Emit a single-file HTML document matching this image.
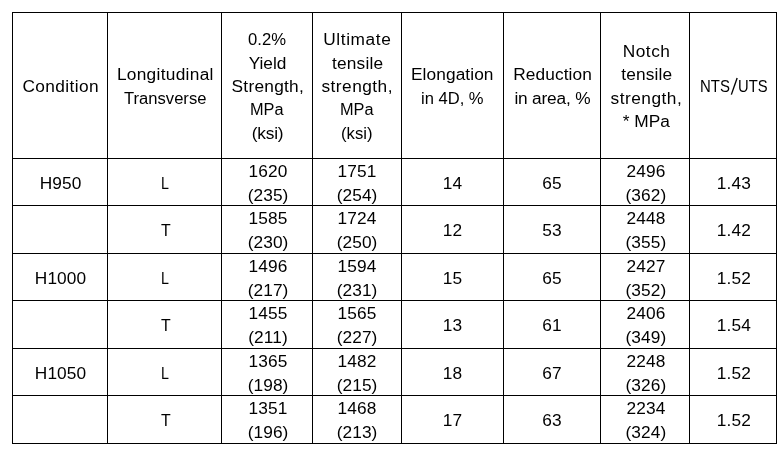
<!DOCTYPE html>
<html><head><meta charset="utf-8"><title>Table</title>
<style>
html,body{margin:0;padding:0;background:#fff;}
body{width:782px;height:453px;position:relative;overflow:hidden;font-family:"Liberation Sans",sans-serif;color:#000;}
.h{position:absolute;height:1px;background:#000;left:12px;width:765px;}
.v{position:absolute;width:1px;background:#000;top:12px;height:432px;}
.t{position:absolute;font-size:17.3px;line-height:20px;height:20px;white-space:pre;}
#w{position:absolute;left:0;top:0;width:782px;height:453px;will-change:transform;}
</style></head><body><div id="w">
<div class="h" style="top:12px"></div>
<div class="h" style="top:158px"></div>
<div class="h" style="top:205px"></div>
<div class="h" style="top:253px"></div>
<div class="h" style="top:300px"></div>
<div class="h" style="top:348px"></div>
<div class="h" style="top:395px"></div>
<div class="h" style="top:443px"></div>
<div class="v" style="left:12px"></div>
<div class="v" style="left:107px"></div>
<div class="v" style="left:221px"></div>
<div class="v" style="left:312px"></div>
<div class="v" style="left:401px"></div>
<div class="v" style="left:503px"></div>
<div class="v" style="left:600px"></div>
<div class="v" style="left:689px"></div>
<div class="v" style="left:776px"></div>
<div class="t" style="left:22.50px;top:76px;letter-spacing:0.387px;">Condition</div>
<div class="t" style="left:116.90px;top:64px;letter-spacing:0.300px;">Longitudinal</div>
<div class="t" style="left:124.30px;top:88px;transform:scaleX(0.961);transform-origin:0 0;">Transverse</div>
<div class="t" style="left:248.24px;top:29px;transform:scaleX(0.963);transform-origin:0 0;">0.2%</div>
<div class="t" style="left:248.70px;top:53px;letter-spacing:-0.025px;">Yield</div>
<div class="t" style="left:231.60px;top:76px;letter-spacing:0.250px;">Strength,</div>
<div class="t" style="left:250.46px;top:99px;transform:scaleX(0.944);transform-origin:0 0;">MPa</div>
<div class="t" style="left:251.70px;top:123px;letter-spacing:-0.175px;">(ksi)</div>
<div class="t" style="left:323.30px;top:29px;letter-spacing:0.586px;">Ultimate</div>
<div class="t" style="left:331.90px;top:53px;letter-spacing:0.217px;">tensile</div>
<div class="t" style="left:321.50px;top:76px;letter-spacing:0.462px;">strength,</div>
<div class="t" style="left:339.71px;top:99px;transform:scaleX(0.944);transform-origin:0 0;">MPa</div>
<div class="t" style="left:341.14px;top:123px;transform:scaleX(0.965);transform-origin:0 0;">(ksi)</div>
<div class="t" style="left:411.00px;top:64px;letter-spacing:0.089px;">Elongation</div>
<div class="t" style="left:420.64px;top:88px;transform:scaleX(0.958);transform-origin:0 0;">in 4D, %</div>
<div class="t" style="left:513.20px;top:64px;letter-spacing:0.112px;">Reduction</div>
<div class="t" style="left:514.40px;top:88px;letter-spacing:-0.178px;">in area, %</div>
<div class="t" style="left:622.70px;top:41px;letter-spacing:0.525px;">Notch</div>
<div class="t" style="left:621.20px;top:64px;letter-spacing:0.150px;">tensile</div>
<div class="t" style="left:610.50px;top:88px;letter-spacing:0.500px;">strength,</div>
<div class="t" style="left:622.80px;top:111px;letter-spacing:-0.025px;">* MPa</div>
<div class="t" style="left:700.24px;top:76px;transform:scaleX(0.864);transform-origin:0 0;">NTS</div>
<div class="t" style="left:738.45px;top:76px;transform:scaleX(0.855);transform-origin:0 0;">UTS</div>
<div class="t" style="left:39.69px;top:173px;letter-spacing:0.100px;">H950</div>
<div class="t" style="left:161.48px;top:173px;transform:scaleX(0.825);transform-origin:0 0;">L</div>
<div class="t" style="left:248.62px;top:161px;letter-spacing:0.100px;">1620</div>
<div class="t" style="left:247.63px;top:185px;letter-spacing:0.100px;">(235)</div>
<div class="t" style="left:337.62px;top:161px;letter-spacing:0.100px;">1751</div>
<div class="t" style="left:336.63px;top:185px;letter-spacing:0.100px;">(254)</div>
<div class="t" style="left:442.83px;top:173px;letter-spacing:0.100px;">14</div>
<div class="t" style="left:542.33px;top:173px;letter-spacing:0.100px;">65</div>
<div class="t" style="left:626.52px;top:161px;letter-spacing:0.100px;">2496</div>
<div class="t" style="left:625.53px;top:185px;letter-spacing:0.100px;">(362)</div>
<div class="t" style="left:716.83px;top:173px;letter-spacing:0.100px;">1.43</div>
<div class="t" style="left:160.50px;top:220px;transform:scaleX(0.920);transform-origin:0 0;">T</div>
<div class="t" style="left:248.62px;top:208px;letter-spacing:0.100px;">1585</div>
<div class="t" style="left:247.63px;top:232px;letter-spacing:0.100px;">(230)</div>
<div class="t" style="left:337.62px;top:208px;letter-spacing:0.100px;">1724</div>
<div class="t" style="left:336.63px;top:232px;letter-spacing:0.100px;">(250)</div>
<div class="t" style="left:442.83px;top:220px;letter-spacing:0.100px;">12</div>
<div class="t" style="left:542.33px;top:220px;letter-spacing:0.100px;">53</div>
<div class="t" style="left:626.52px;top:208px;letter-spacing:0.100px;">2448</div>
<div class="t" style="left:625.53px;top:232px;letter-spacing:0.100px;">(355)</div>
<div class="t" style="left:716.83px;top:220px;letter-spacing:0.100px;">1.42</div>
<div class="t" style="left:34.83px;top:268px;letter-spacing:0.100px;">H1000</div>
<div class="t" style="left:161.48px;top:268px;transform:scaleX(0.825);transform-origin:0 0;">L</div>
<div class="t" style="left:248.62px;top:256px;letter-spacing:0.100px;">1496</div>
<div class="t" style="left:247.63px;top:280px;letter-spacing:0.100px;">(217)</div>
<div class="t" style="left:337.62px;top:256px;letter-spacing:0.100px;">1594</div>
<div class="t" style="left:336.63px;top:280px;letter-spacing:0.100px;">(231)</div>
<div class="t" style="left:442.83px;top:268px;letter-spacing:0.100px;">15</div>
<div class="t" style="left:542.33px;top:268px;letter-spacing:0.100px;">65</div>
<div class="t" style="left:626.52px;top:256px;letter-spacing:0.100px;">2427</div>
<div class="t" style="left:625.53px;top:280px;letter-spacing:0.100px;">(352)</div>
<div class="t" style="left:716.83px;top:268px;letter-spacing:0.100px;">1.52</div>
<div class="t" style="left:160.50px;top:315px;transform:scaleX(0.920);transform-origin:0 0;">T</div>
<div class="t" style="left:248.62px;top:303px;letter-spacing:0.100px;">1455</div>
<div class="t" style="left:248.27px;top:327px;letter-spacing:0.100px;">(211)</div>
<div class="t" style="left:337.62px;top:303px;letter-spacing:0.100px;">1565</div>
<div class="t" style="left:336.63px;top:327px;letter-spacing:0.100px;">(227)</div>
<div class="t" style="left:442.83px;top:315px;letter-spacing:0.100px;">13</div>
<div class="t" style="left:542.33px;top:315px;letter-spacing:0.100px;">61</div>
<div class="t" style="left:626.52px;top:303px;letter-spacing:0.100px;">2406</div>
<div class="t" style="left:625.53px;top:327px;letter-spacing:0.100px;">(349)</div>
<div class="t" style="left:716.83px;top:315px;letter-spacing:0.100px;">1.54</div>
<div class="t" style="left:34.83px;top:363px;letter-spacing:0.100px;">H1050</div>
<div class="t" style="left:161.48px;top:363px;transform:scaleX(0.825);transform-origin:0 0;">L</div>
<div class="t" style="left:248.62px;top:351px;letter-spacing:0.100px;">1365</div>
<div class="t" style="left:247.63px;top:375px;letter-spacing:0.100px;">(198)</div>
<div class="t" style="left:337.62px;top:351px;letter-spacing:0.100px;">1482</div>
<div class="t" style="left:336.63px;top:375px;letter-spacing:0.100px;">(215)</div>
<div class="t" style="left:442.83px;top:363px;letter-spacing:0.100px;">18</div>
<div class="t" style="left:542.33px;top:363px;letter-spacing:0.100px;">67</div>
<div class="t" style="left:626.52px;top:351px;letter-spacing:0.100px;">2248</div>
<div class="t" style="left:625.53px;top:375px;letter-spacing:0.100px;">(326)</div>
<div class="t" style="left:716.83px;top:363px;letter-spacing:0.100px;">1.52</div>
<div class="t" style="left:160.50px;top:410px;transform:scaleX(0.920);transform-origin:0 0;">T</div>
<div class="t" style="left:248.62px;top:398px;letter-spacing:0.100px;">1351</div>
<div class="t" style="left:247.63px;top:422px;letter-spacing:0.100px;">(196)</div>
<div class="t" style="left:337.62px;top:398px;letter-spacing:0.100px;">1468</div>
<div class="t" style="left:336.63px;top:422px;letter-spacing:0.100px;">(213)</div>
<div class="t" style="left:442.83px;top:410px;letter-spacing:0.100px;">17</div>
<div class="t" style="left:542.33px;top:410px;letter-spacing:0.100px;">63</div>
<div class="t" style="left:626.52px;top:398px;letter-spacing:0.100px;">2234</div>
<div class="t" style="left:625.53px;top:422px;letter-spacing:0.100px;">(324)</div>
<div class="t" style="left:716.83px;top:410px;letter-spacing:0.100px;">1.52</div>
<svg style="position:absolute;left:728px;top:76px" width="12" height="21" viewBox="0 0 12 21"><line x1="3.35" y1="18.6" x2="9.15" y2="2.0" stroke="#000" stroke-width="1.35"/></svg>
</div></body></html>
